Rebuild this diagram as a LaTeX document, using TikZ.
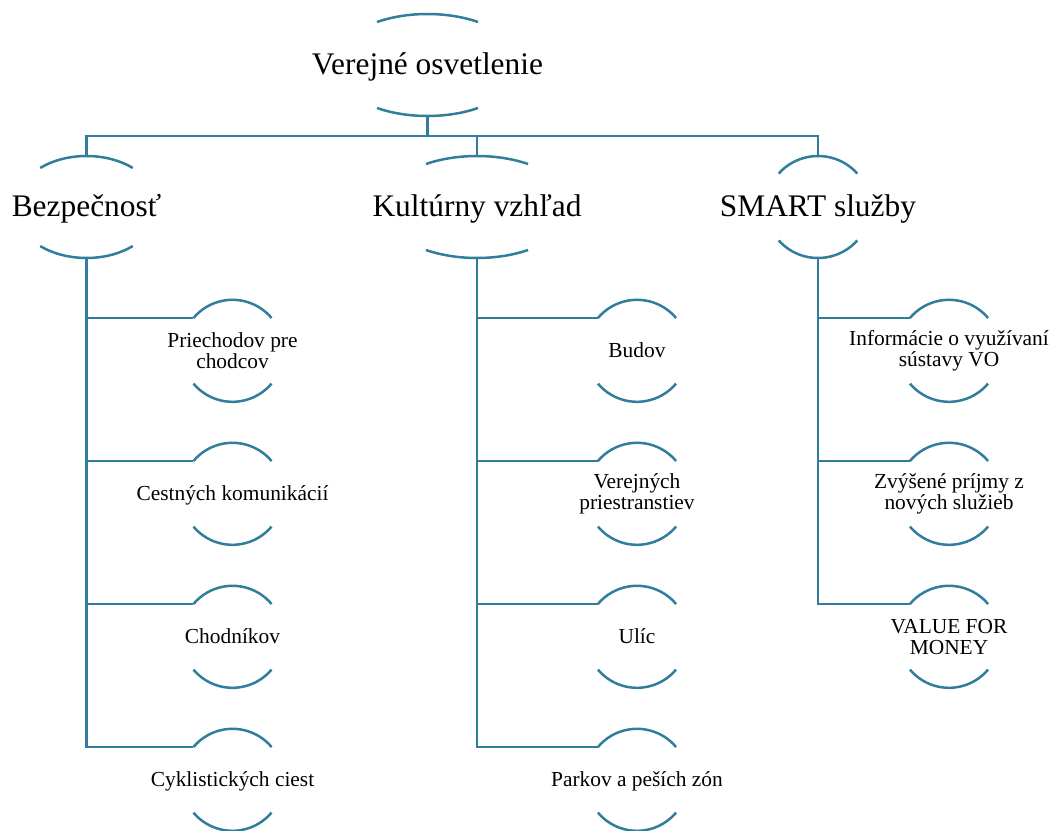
\documentclass[tikz,border=0pt]{standalone}
\usepackage{fontspec}
\setmainfont{Liberation Serif}
\usetikzlibrary{calc}
\definecolor{arcblue}{RGB}{49,126,156}
\tikzset{
  conn/.style={draw=arcblue, line width=2.5pt, line join=miter},
  bigtext/.style={font=\fontsize{31.4}{34}\selectfont, inner sep=0pt, text=black, text height=24pt, text depth=6pt},
  smalltext/.style={font=\fontsize{21.4}{21}\selectfont, inner sep=0pt, align=center, text=black},
  oneline/.style={smalltext, text height=16pt, text depth=3.6pt},
}
% name, x radius, y radius, end angle of top arc
\newcommand{\ovalarcs}[4]{%
  \draw[conn] (#1.center) ++(#4:#2pt and #3pt) arc[start angle=#4, end angle={180-#4}, x radius=#2pt, y radius=#3pt];
  \draw[conn] (#1.center) ++({180+#4}:#2pt and #3pt) arc[start angle={180+#4}, end angle={360-#4}, x radius=#2pt, y radius=#3pt];
  \coordinate (#1-top) at ($(#1.center)+(0pt,#3pt)$);
  \coordinate (#1-bot) at ($(#1.center)+(0pt,-#3pt)$);
  \coordinate (#1-tl) at ($(#1.center)+({180-#4}:#2pt and #3pt)$);
}
\begin{document}
\begin{tikzpicture}[x=1pt, y=-1pt]
\useasboundingbox (0,0) rectangle (1052,830);

% level 1
\node[bigtext] (V) at (427.5,65) {Verejné osvetlenie};
\ovalarcs{V}{94}{51}{57.5}

% level 2
\node[bigtext] (B) at (86.5,207) {Bezpečnosť};
\ovalarcs{B}{72}{51}{50}
\node[bigtext] (K) at (477,207) {Kultúrny vzhľad};
\ovalarcs{K}{95}{51}{57.5}
\node[bigtext] (S) at (818,207) {SMART služby};
\ovalarcs{S}{52}{51}{41}

% bus
\coordinate (bus) at (0,136);
\draw[conn] (B-top) -- (B-top |- bus) -- (S-top |- bus) -- (S-top);
\draw[conn] (K-top) -- (K-top |- bus);
\draw[conn] (V-bot) -- (V-bot |- bus);

% level 3 - Bezpecnost
\node[smalltext] (B1) at (232.5,350.8) {Priechodov pre\\chodcov};
\node[oneline] (B2) at (232.5,493.8) {Cestných komunikácií};
\node[oneline] (B3) at (232.5,636.8) {Chodníkov};
\node[oneline] (B4) at (232.5,779.8) {Cyklistických ciest};
\foreach \n in {B1,B2,B3,B4} {\ovalarcs{\n}{51}{51}{40}}

% level 3 - Kulturny
\node[oneline] (K1) at (637,350.8) {Budov};
\node[smalltext] (K2) at (637,493.8) {Verejných\\priestranstiev};
\node[oneline] (K3) at (637,636.8) {Ulíc};
\node[oneline] (K4) at (637,779.8) {Parkov a peších zón};
\foreach \n in {K1,K2,K3,K4} {\ovalarcs{\n}{51}{51}{40}}

% level 3 - SMART
\node[smalltext] (S1) at (949,350.8) {Informácie o využívaní\\sústavy VO};
\node[smalltext] (S2) at (949,493.8) {Zvýšené príjmy z\\nových služieb};
\node[smalltext] (S3) at (949,636.8) {VALUE FOR\\MONEY};
\foreach \n in {S1,S2,S3} {\ovalarcs{\n}{51}{51}{40}}

% branches
\draw[conn] (B-bot) |- (B4-tl);
\foreach \n in {B1,B2,B3} {\draw[conn] (B-bot |- \n-tl) -- (\n-tl);}
\draw[conn] (K-bot) |- (K4-tl);
\foreach \n in {K1,K2,K3} {\draw[conn] (K-bot |- \n-tl) -- (\n-tl);}
\draw[conn] (S-bot) |- (S3-tl);
\foreach \n in {S1,S2} {\draw[conn] (S-bot |- \n-tl) -- (\n-tl);}
\end{tikzpicture}
\end{document}
